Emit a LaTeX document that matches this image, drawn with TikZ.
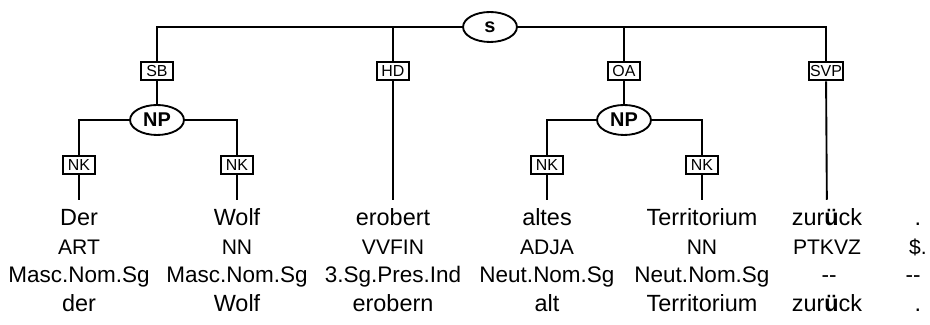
\documentclass[tikz,border=0pt]{standalone}
\usepackage{fontspec}
\setmainfont{Liberation Sans}
\usepackage{tikz}
\usetikzlibrary{positioning,shapes.geometric}

\begin{document}
\begin{tikzpicture}[x=0.015cm,y=-0.015cm,
  cat/.style={draw,ellipse,line width=0.8pt,minimum width=23pt,minimum height=12.8pt,inner sep=0pt,font=\fontsize{8.5}{9}\selectfont\bfseries},
  fn/.style={draw,line width=0.8pt,minimum width=14pt,minimum height=8pt,inner sep=0.5pt,font=\fontsize{6.8}{7}\selectfont},
  word/.style={anchor=base,inner sep=3pt,text height=8pt,text depth=2pt,font=\fontsize{10}{12}\selectfont},
  tag/.style={anchor=base,inner sep=1pt,font=\fontsize{9}{10}\selectfont},
  morph/.style={anchor=base,inner sep=1pt,font=\fontsize{9.6}{11}\selectfont},
  link/.style={line width=0.8pt}
]
  \useasboundingbox (0,0) rectangle (930,325);
  \node[cat] (S) at (490,27) {s};
  \node[fn] (SB) at (157,71) {SB};
  \node[fn] (HD) at (393,71) {HD};
  \node[fn] (OA) at (624,71) {OA};
  \node[fn] (SVP) at (826,71) {SVP};
  \node[cat] (NP1) at (157,120) {NP};
  \node[cat] (NP2) at (624,120) {NP};
  \node[fn] (NK1) at (79,165) {NK};
  \node[fn] (NK2) at (237,165) {NK};
  \node[fn] (NK3) at (547,165) {NK};
  \node[fn] (NK4) at (702,165) {NK};
  % words
  \node[word] (w1) at (79,226) {Der};
  \node[word] (w2) at (237,226) {Wolf};
  \node[word] (w3) at (393,226) {erobert};
  \node[word] (w4) at (547,226) {altes};
  \node[word] (w5) at (702,226) {Territorium};
  \node[word] (w6) at (827,226) {zur\textbf{ü}ck};
  \node[word] (w7) at (918,226) {.};
  % tags
  \node[tag] (t1) at (79,255) {ART};
  \node[tag] (t2) at (237,255) {NN};
  \node[tag] (t3) at (393,255) {VVFIN};
  \node[tag] (t4) at (547,255) {ADJA};
  \node[tag] (t5) at (702,255) {NN};
  \node[tag] (t6) at (827,255) {PTKVZ};
  \node[tag] (t7) at (918,255) {\$.};
  % morphology
  \node[morph] (m1) at (79,283) {Masc.Nom.Sg};
  \node[morph] (m2) at (237,283) {Masc.Nom.Sg};
  \node[morph] (m3) at (393,283) {3.Sg.Pres.Ind};
  \node[morph] (m4) at (547,283) {Neut.Nom.Sg};
  \node[morph] (m5) at (702,283) {Neut.Nom.Sg};
  \node[morph] (m6) at (829,283) {-{}-};
  \node[morph] (m7) at (913,283) {-{}-};
  % lemmas
  \node[word] (l1) at (79,312) {der};
  \node[word] (l2) at (237,312) {Wolf};
  \node[word] (l3) at (393,312) {erobern};
  \node[word] (l4) at (547,312) {alt};
  \node[word] (l5) at (702,312) {Territorium};
  \node[word] (l6) at (827,312) {zur\textbf{ü}ck};
  \node[word] (l7) at (918,312) {.};
  % edges
  \draw[link] (SB) |- (S); \draw[link] (SVP) |- (S);
  \draw[link] (HD) -- (HD |- S); \draw[link] (OA) -- (OA |- S);
  \draw[link] (SB) -- (NP1); \draw[link] (OA) -- (NP2);
  \draw[link] (NK1) |- (NP1); \draw[link] (NK2) |- (NP1);
  \draw[link] (NK3) |- (NP2); \draw[link] (NK4) |- (NP2);
  \draw[link] (NK1) -- (w1); \draw[link] (NK2) -- (w2);
  \draw[link] (HD) -- (w3); \draw[link] (NK3) -- (w4);
  \draw[link] (NK4) -- (w5); \draw[link] (SVP) -- (w6);
\end{tikzpicture}
\end{document}
